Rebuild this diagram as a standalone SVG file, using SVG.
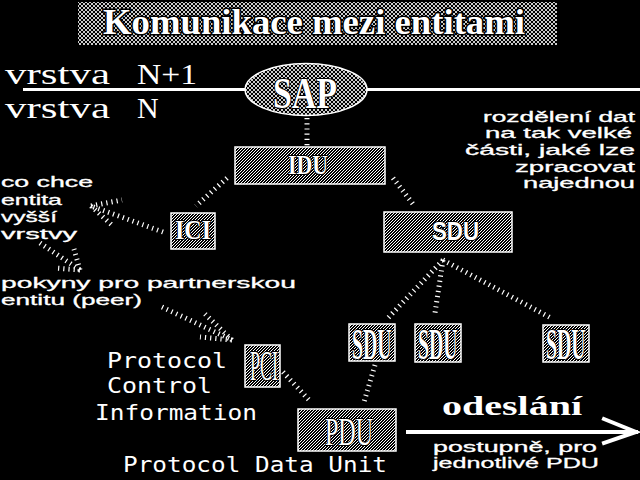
<svg xmlns="http://www.w3.org/2000/svg" width="640" height="480" viewBox="0 0 640 480">
<defs>
<pattern id="hatch" width="4" height="4" patternUnits="userSpaceOnUse"><rect width="4" height="4" fill="#000"/><path d="M0,0 L4,4 M4,0 L0,4" stroke="#fff" stroke-width="0.8"/></pattern>
<pattern id="dots" width="3" height="3" patternUnits="userSpaceOnUse"><rect width="3" height="3" fill="#000"/><rect x="0" y="0" width="1" height="1" fill="#fff"/><rect x="1" y="2" width="1" height="1" fill="#fff"/><rect x="2" y="1" width="1" height="1" fill="#fff"/></pattern>
<style>
.box{fill:url(#dots);stroke:#fff;stroke-width:1.5}
.conn{fill:none;stroke:#fff;stroke-width:5;stroke-dasharray:1.2 4}
.arrow{fill:none;stroke:#fff;stroke-width:4;stroke-linecap:square}
.lbl{fill:#fff;stroke:#000;stroke-width:2;paint-order:stroke}
.serif{font-family:"Liberation Serif",serif}
.note{font-family:"Liberation Sans",sans-serif;fill:#fff;stroke:#fff;stroke-width:0.3;font-size:14.5px}
.sans{font-family:"DejaVu Sans Mono","DejaVu Sans",monospace;fill:#fff}
</style>
</defs>
<rect width="640" height="480" fill="#000"/>
<g id="title">
<rect x="78" y="2" width="479" height="43" fill="url(#hatch)"/>
<text x="103" y="34" class="serif lbl" font-size="36" font-weight="bold" textLength="422" lengthAdjust="spacingAndGlyphs" style="stroke-width:3">Komunikace mezi entitami</text>
</g>
<g id="layers">
<line x1="23" y1="89.5" x2="245" y2="89.5" stroke="#fff" stroke-width="3"/>
<line x1="367" y1="89.5" x2="640" y2="89.5" stroke="#fff" stroke-width="3"/>
<text class="serif" fill="#fff" font-size="30" y="84"><tspan x="5" textLength="105" lengthAdjust="spacingAndGlyphs">vrstva</tspan> <tspan x="137" textLength="60" lengthAdjust="spacingAndGlyphs">N+1</tspan></text>
<text class="serif" fill="#fff" font-size="30" y="118"><tspan x="5" textLength="105" lengthAdjust="spacingAndGlyphs">vrstva</tspan> <tspan x="137">N</tspan></text>
</g>
<g id="connectors">
<line class="conn" x1="307" y1="118" x2="307" y2="146"/>
<line class="conn" x1="227" y1="178" x2="196" y2="206"/>
<line class="conn" x1="393" y1="178" x2="413" y2="204"/>
<path class="conn" d="M163,232 L91,206 M91,206 L122,200 M91,206 L113,226"/>
<path class="conn" d="M40,243 L80,270 M80,270 L74,249 M80,270 L55,268"/>
<path class="conn" d="M162,307 L232,340 M232,340 L205,314 M232,340 L200,337"/>
<line class="conn" x1="283" y1="372" x2="310" y2="401"/>
<line class="conn" x1="375" y1="365" x2="364" y2="402"/>
<line class="conn" x1="443" y1="260" x2="388" y2="318"/>
<line class="conn" x1="443" y1="260" x2="435" y2="313"/>
<line class="conn" x1="443" y1="260" x2="551" y2="318"/>
</g>
<g id="SAP">
<ellipse cx="306" cy="89.5" rx="61" ry="26" fill="url(#hatch)" stroke="#fff" stroke-width="1.5"/>
<text transform="translate(273,108) scale(0.77,1)" class="serif lbl" font-size="44" font-weight="bold">SAP</text>
</g>
<g id="IDU">
<rect class="box" x="235" y="147" width="150" height="37"/>
<text transform="translate(288,174) scale(0.78,1)" class="serif lbl" font-size="28" font-weight="bold">IDU</text>
</g>
<g id="ICI">
<rect class="box" x="171" y="213" width="44" height="36"/>
<text transform="translate(175,239) scale(0.89,1)" class="serif lbl" font-size="27" font-weight="bold">ICI</text>
</g>
<g id="SDU">
<rect class="box" x="384" y="212" width="128" height="40"/>
<text transform="translate(432,240) scale(0.89,1)" class="lbl" font-family="Liberation Sans, sans-serif" font-size="25" font-weight="bold">SDU</text>
</g>
<g id="SDU1">
<rect class="box" x="349" y="324" width="46" height="37"/>
<text transform="translate(352,359) scale(0.44,1)" class="serif lbl" font-size="45" font-weight="bold">SDU</text>
</g>
<g id="SDU2">
<rect class="box" x="415" y="324" width="46" height="38"/>
<text transform="translate(418,359) scale(0.44,1)" class="serif lbl" font-size="45" font-weight="bold">SDU</text>
</g>
<g id="SDU3">
<rect class="box" x="543" y="325" width="46" height="37"/>
<text transform="translate(546,359) scale(0.44,1)" class="serif lbl" font-size="45" font-weight="bold">SDU</text>
</g>
<g id="PCI">
<rect class="box" x="245" y="345" width="35" height="42"/>
<text transform="translate(250,380) scale(0.43,1)" class="serif lbl" font-size="42">PCI</text>
</g>
<g id="PDU">
<rect class="box" x="298" y="409" width="98" height="42"/>
<text transform="translate(325,445) scale(0.6,1)" class="serif lbl" font-size="40">PDU</text>
</g>
<g id="notes" class="note">
<text x="1" y="187" textLength="92" lengthAdjust="spacingAndGlyphs">co chce</text>
<text x="1" y="205" textLength="61" lengthAdjust="spacingAndGlyphs">entita</text>
<text x="1" y="222" textLength="56" lengthAdjust="spacingAndGlyphs">vyšší</text>
<text x="1" y="239" textLength="76" lengthAdjust="spacingAndGlyphs">vrstvy</text>
<text x="1" y="288" textLength="295" lengthAdjust="spacingAndGlyphs">pokyny pro partnerskou</text>
<text x="1" y="305" textLength="141" lengthAdjust="spacingAndGlyphs">entitu (peer)</text>
<g text-anchor="end">
<text x="635" y="122" textLength="152" lengthAdjust="spacingAndGlyphs">rozdělení dat</text>
<text x="632" y="138" textLength="147" lengthAdjust="spacingAndGlyphs">na tak velké</text>
<text x="635" y="155" textLength="170" lengthAdjust="spacingAndGlyphs">části, jaké lze</text>
<text x="635" y="172" textLength="120" lengthAdjust="spacingAndGlyphs">zpracovat</text>
<text x="635" y="188" textLength="112" lengthAdjust="spacingAndGlyphs">najednou</text>
</g>
<text x="433" y="452" textLength="164" lengthAdjust="spacingAndGlyphs">postupně, pro</text>
<text x="433" y="468" textLength="166" lengthAdjust="spacingAndGlyphs">jednotlivé PDU</text>
</g>
<g id="labels" class="sans" font-size="22">
<text x="107" y="368" textLength="120" lengthAdjust="spacingAndGlyphs">Protocol</text>
<text x="107" y="393" textLength="105" lengthAdjust="spacingAndGlyphs">Control</text>
<text x="95" y="420" textLength="162" lengthAdjust="spacingAndGlyphs">Information</text>
<text x="123" y="472" textLength="264" lengthAdjust="spacingAndGlyphs">Protocol Data Unit</text>
</g>
<g id="send">
<line class="arrow" x1="408" y1="432" x2="636" y2="432"/>
<path class="arrow" d="M604,419 L636,432 L604,443"/>
<text x="442" y="415" class="serif" fill="#fff" font-size="27" font-weight="bold" textLength="140" lengthAdjust="spacingAndGlyphs">odeslání</text>
</g>
</svg>
